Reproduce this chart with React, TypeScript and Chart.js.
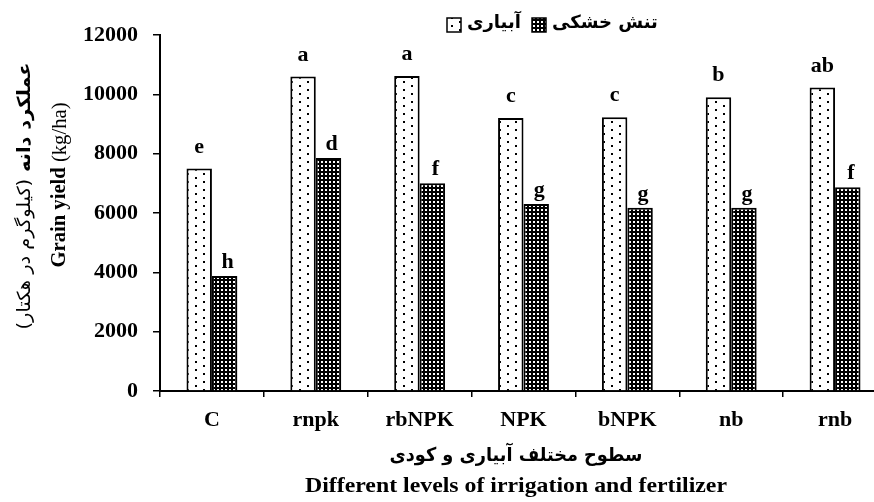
import React, { useEffect, useRef } from 'react';
import { Chart, registerables } from 'chart.js';

Chart.register(...registerables);

const categories = ['C', 'rnpk', 'rbNPK', 'NPK', 'bNPK', 'nb', 'rnb'];
const irrigated = [7500, 10600, 10620, 9200, 9230, 9900, 10230];
const drought = [3880, 7850, 7000, 6300, 6180, 6180, 6870];
const irrigatedLetters = ['e', 'a', 'a', 'c', 'c', 'b', 'ab'];
const droughtLetters = ['h', 'd', 'f', 'g', 'g', 'g', 'f'];
const seriesNames = ['آبیاری', 'تنش خشکی'];
const yTickValues = [0, 2000, 4000, 6000, 8000, 10000, 12000];
const yTitleFa = ['عملکرد دانه ', '(کیلوگرم در هکتار)'];
const yTitleEn = ['Grain yield', ' (kg/ha)'];
const xTitleFa = 'سطوح مختلف آبیاری و کودی';
const xTitleEn = 'Different levels of irrigation and fertilizer';

const SERIF = '"Liberation Serif", "Times New Roman", serif';
const SANS = '"DejaVu Sans", sans-serif';

function makeDotPattern(ctx: CanvasRenderingContext2D) {
  const c = document.createElement('canvas');
  c.width = 16;
  c.height = 8;
  const g = c.getContext('2d')!;
  g.fillStyle = '#fff';
  g.fillRect(0, 0, 16, 8);
  g.fillStyle = '#000';
  g.fillRect(3, 1, 2, 2);
  g.fillRect(11, 5, 2, 2);
  return ctx.createPattern(c, 'repeat')!;
}

function makeDarkPattern(ctx: CanvasRenderingContext2D) {
  const c = document.createElement('canvas');
  c.width = 4;
  c.height = 4;
  const g = c.getContext('2d')!;
  g.fillStyle = '#000';
  g.fillRect(0, 0, 4, 4);
  g.fillStyle = '#fff';
  g.fillRect(1, 1, 2, 2);
  return ctx.createPattern(c, 'repeat')!;
}

type Part = { text: string; font: string };

function drawParts(
  ctx: CanvasRenderingContext2D,
  parts: Part[],
  cx: number,
  cy: number,
  targetW: number,
  rotated: boolean,
  rtl: boolean
) {
  ctx.save();
  const widths = parts.map((p) => {
    ctx.font = p.font;
    ctx.direction = rtl ? 'rtl' : 'ltr';
    return ctx.measureText(p.text).width;
  });
  const total = widths.reduce((a, b) => a + b, 0);
  const s = targetW / total;
  ctx.translate(cx, cy);
  if (rotated) ctx.rotate(-Math.PI / 2);
  ctx.scale(s, 1);
  ctx.fillStyle = '#000';
  ctx.textBaseline = 'middle';
  if (rtl) {
    let x = total / 2;
    parts.forEach((p, i) => {
      ctx.font = p.font;
      ctx.direction = 'rtl';
      ctx.textAlign = 'right';
      ctx.fillText(p.text, x, 0);
      x -= widths[i];
    });
  } else {
    let x = -total / 2;
    parts.forEach((p, i) => {
      ctx.font = p.font;
      ctx.direction = 'ltr';
      ctx.textAlign = 'left';
      ctx.fillText(p.text, x, 0);
      x += widths[i];
    });
  }
  ctx.restore();
}

export default function App() {
  const ref = useRef<HTMLCanvasElement>(null);

  useEffect(() => {
    const canvas = ref.current!;
    const ctx0 = canvas.getContext('2d')!;
    const dotPattern = makeDotPattern(ctx0);
    const darkPattern = makeDarkPattern(ctx0);

    const decor = {
      id: 'decor',
      afterDatasetsDraw(chart: any) {
        const ctx: CanvasRenderingContext2D = chart.ctx;
        ctx.save();
        ctx.fillStyle = '#000';
        ctx.font = `bold 22px ${SERIF}`;
        ctx.textAlign = 'center';
        ctx.textBaseline = 'alphabetic';
        [irrigatedLetters, droughtLetters].forEach((letters, di) => {
          const meta = chart.getDatasetMeta(di);
          meta.data.forEach((el: any, i: number) => {
            const off = di === 0 ? 16 : 8;
            const dx = di === 1 ? 3 : 0;
            ctx.fillText(letters[i], el.x + dx, el.y - off);
          });
        });
        ctx.restore();
      },
      afterDraw(chart: any) {
        const ctx: CanvasRenderingContext2D = chart.ctx;
        // Y axis titles
        drawParts(
          ctx,
          [
            { text: yTitleFa[0], font: `bold 18px ${SANS}` },
            { text: yTitleFa[1], font: `18px ${SANS}` },
          ],
          25,
          196,
          267,
          true,
          true
        );
        drawParts(
          ctx,
          [
            { text: yTitleEn[0], font: `bold 21px ${SERIF}` },
            { text: yTitleEn[1], font: `21px ${SERIF}` },
          ],
          60,
          185,
          165,
          true,
          false
        );
        // X axis titles
        drawParts(ctx, [{ text: xTitleFa, font: `bold 19px ${SANS}` }], 516, 456, 253, false, true);
        drawParts(ctx, [{ text: xTitleEn, font: `bold 21px ${SERIF}` }], 516, 487, 422, false, false);

        // Legend
        ctx.save();
        const boxes = [
          { x: 447, pat: dotPattern },
          { x: 532, pat: darkPattern },
        ];
        boxes.forEach((b, i) => {
          ctx.fillStyle = b.pat;
          ctx.fillRect(b.x, 18, 14, 14);
          ctx.strokeStyle = '#000';
          ctx.lineWidth = 1.5;
          ctx.strokeRect(b.x, 18, 14, 14);
          ctx.fillStyle = '#000';
          ctx.font = `bold 18px ${SANS}`;
          ctx.direction = 'rtl';
          ctx.textAlign = 'left';
          ctx.textBaseline = 'middle';
          ctx.fillText(seriesNames[i], b.x + 20, 23);
        });
        ctx.restore();
      },
    };

    const chart = new Chart(canvas, {
      type: 'bar',
      data: {
        labels: categories,
        datasets: [
          {
            label: seriesNames[0],
            data: irrigated,
            backgroundColor: dotPattern as any,
            borderColor: '#000',
            borderWidth: 2,
            categoryPercentage: 0.49,
            barPercentage: 1.0,
          },
          {
            label: seriesNames[1],
            data: drought,
            backgroundColor: darkPattern as any,
            borderColor: '#000',
            borderWidth: 2,
            categoryPercentage: 0.49,
            barPercentage: 1.0,
          },
        ],
      },
      options: {
        responsive: false,
        animation: false,
        devicePixelRatio: 1,
        layout: { padding: { top: 35, right: 3, left: 0, bottom: 0 } },
        plugins: {
          legend: { display: false },
          tooltip: { enabled: false },
        },
        scales: {
          y: {
            min: 0,
            max: 12000,
            afterBuildTicks: (scale: any) => {
              scale.ticks = yTickValues.map((v) => ({ value: v }));
            },
            afterFit: (scale: any) => {
              scale.width = 160;
            },
            ticks: {
              color: '#000',
              padding: 15,
              font: { family: SERIF, size: 22, weight: 'bold' },
              callback: (v: any) => String(v),
            },
            grid: {
              drawOnChartArea: false,
              drawTicks: true,
              tickLength: 7,
              color: '#000',
              lineWidth: 1.5,
            },
            border: { display: true, color: '#000', width: 2 },
          },
          x: {
            afterFit: (scale: any) => {
              scale.height = 111;
            },
            ticks: {
              color: '#000',
              padding: 10,
              font: { family: SERIF, size: 22, weight: 'bold' },
            },
            grid: {
              drawOnChartArea: false,
              drawTicks: true,
              tickLength: 6,
              color: '#000',
              lineWidth: 1.5,
              offset: true,
            },
            border: { display: true, color: '#000', width: 2 },
          },
        },
      },
      plugins: [decor],
    } as any);

    return () => chart.destroy();
  }, []);

  return (
    <div
      style={{
        position: 'absolute',
        left: 0,
        top: 0,
        width: 874,
        height: 502,
        overflow: 'hidden',
        background: '#fff',
      }}
    >
      <canvas ref={ref} width={890} height={502} style={{ display: 'block', width: 890, height: 502 }} />
    </div>
  );
}
